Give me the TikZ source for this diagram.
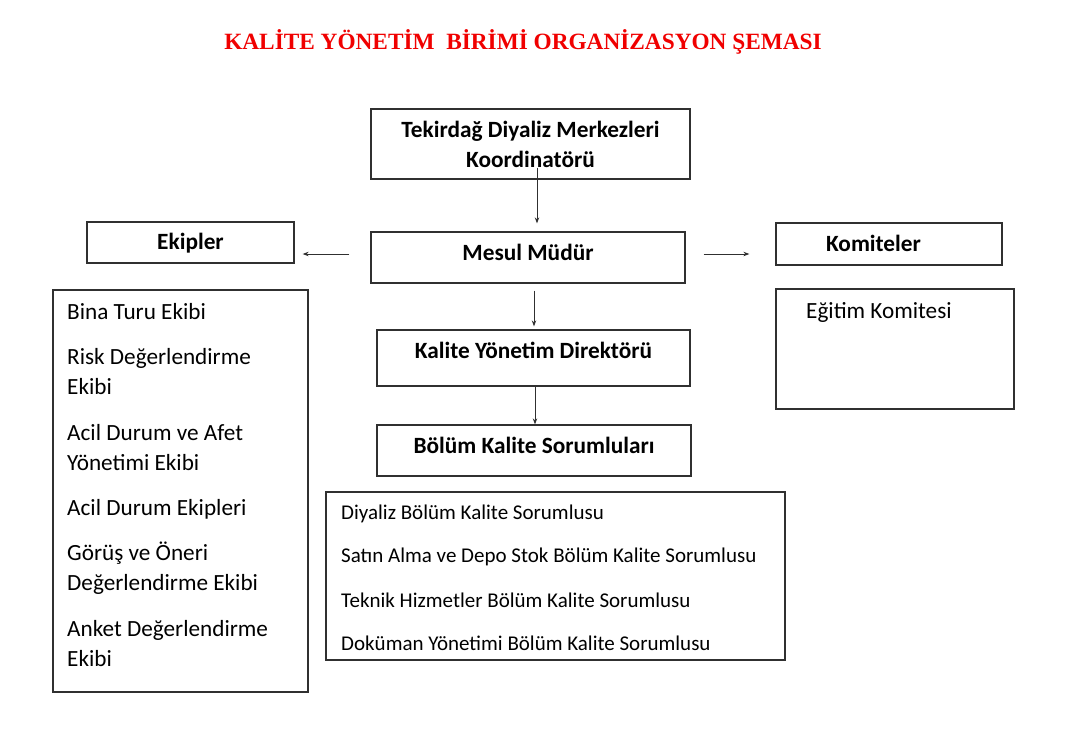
\documentclass[tikz,border=0pt]{standalone}
\usepackage{fontspec}
\setmainfont{Carlito}
\newfontfamily\titlefont{Liberation Serif}
\usetikzlibrary{arrows.meta}
\definecolor{linec}{HTML}{303030}
\definecolor{titlered}{HTML}{F00000}
\tikzset{
  box/.style={draw=linec, line width=1.3pt, inner sep=0pt, align=center},
  head/.style={font=\fontsize{23.3}{30}\selectfont\bfseries},
  item/.style={anchor=west, inner sep=0pt, font=\fontsize{23.2}{30}\selectfont, align=left},
  sitem/.style={anchor=west, inner sep=0pt, font=\fontsize{21}{22}\selectfont},
  arr/.style={draw=linec, line width=0.9pt, -{Stealth[length=6pt,width=4.5pt]}}
}
\begin{document}
\begin{tikzpicture}[x=1pt,y=-1pt]
\useasboundingbox (0,0) rectangle (1080,732);
% title
\node[inner sep=0pt, text=titlered, font=\titlefont\fontsize{23.3}{26}\selectfont\bfseries] (title) at (523,42) {KALİTE YÖNETİM\ \ BİRİMİ ORGANİZASYON ŞEMASI};
% boxes
\node[box, head, minimum width=319pt, minimum height=70pt] (koord) at (530.5,144) {Tekirdağ Diyaliz Merkezleri\\Koordinatörü};
\node[box, head, text height=15pt, text depth=9pt, minimum width=314pt, minimum height=51pt] (mesul) at (528,257.5) {Mesul Müdür};
\node[box, head, text height=15pt, text depth=1pt, minimum width=207pt, minimum height=41pt] (ekipler) at (190.5,242.5) {Ekipler};
\node[box, head, text height=15pt, text depth=0pt, minimum width=226pt, minimum height=42pt] (komite) at (889,244) {Komiteler\hspace*{31pt}};
\node[box, head, text height=15pt, text depth=14pt, minimum width=313pt, minimum height=56pt] (kalite) at (533.5,358) {Kalite Yönetim Direktörü};
\node[box, head, text height=15pt, text depth=9pt, minimum width=314pt, minimum height=51pt] (bolum) at (534,450.5) {Bölüm Kalite Sorumluları};
% list boxes
\node[box, minimum width=255pt, minimum height=402pt] (ekiplist) at (180.5,491) {};
\node[box, minimum width=238pt, minimum height=120pt] (komlist) at (895,349) {};
\node[box, minimum width=459pt, minimum height=168pt] (sorlist) at (555.5,576) {};
% list items
\node[item] (e1) at (67,312) {Bina Turu Ekibi};
\node[item] (e2) at (67,372) {Risk Değerlendirme\\Ekibi};
\node[item] (e3) at (67,448) {Acil Durum ve Afet\\Yönetimi Ekibi};
\node[item] (e4) at (67,509) {Acil Durum Ekipleri};
\node[item] (e5) at (67,568) {Görüş ve Öneri\\Değerlendirme Ekibi};
\node[item] (e6) at (67,644) {Anket Değerlendirme\\Ekibi};
\node[item] (k1) at (806,312) {Eğitim Komitesi};
\node[sitem] (s1) at (341,514) {Diyaliz Bölüm Kalite Sorumlusu};
\node[sitem] (s2) at (341,557) {Satın Alma ve Depo Stok Bölüm Kalite Sorumlusu};
\node[sitem] (s3) at (341,600) {Teknik Hizmetler Bölüm Kalite Sorumlusu};
\node[sitem] (s4) at (341,643) {Doküman Yönetimi Bölüm Kalite Sorumlusu};
% arrows
\draw[arr] ([xshift=6.5pt,yshift=12pt]koord.south) -- ([xshift=9pt,yshift=8pt]mesul.north);
\draw[arr] ([xshift=-21pt,yshift=3.5pt]mesul.west) -- ([xshift=8pt,yshift=-11.5pt]ekipler.east);
\draw[arr] ([xshift=18pt,yshift=3.5pt]mesul.east) -- ([xshift=-26pt,yshift=-10pt]komite.west);
\draw[arr] ([xshift=6pt,yshift=-7pt]mesul.south) -- ([xshift=0.5pt,yshift=3pt]kalite.north);
\draw[arr] ([xshift=1.5pt]kalite.south) -- ([xshift=1pt]bolum.north);
\end{tikzpicture}
\end{document}
